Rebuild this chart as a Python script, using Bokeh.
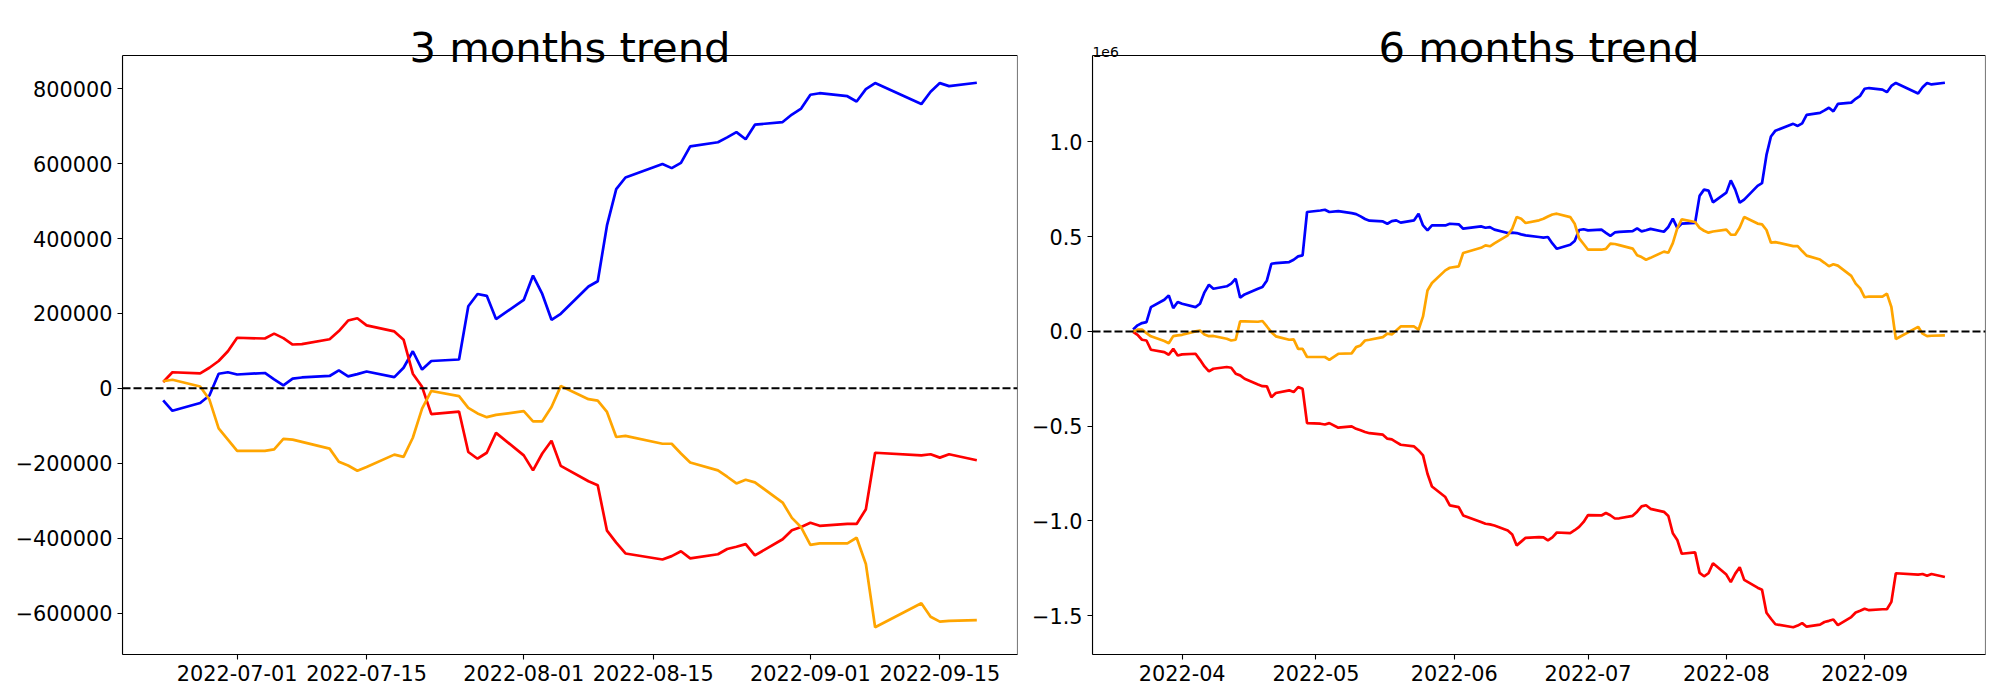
import numpy as np
import pandas as pd
from bokeh.plotting import figure
from bokeh.layouts import row
from bokeh.models import Span, Label, FixedTicker, DatetimeTickFormatter, Range1d, BoxAnnotation
from bokeh.embed import file_html
from bokeh.resources import INLINE

# ---------------- data (values in thousands) ----------------
dates_3m = [
    "2022-06-23", "2022-06-24", "2022-06-27", "2022-06-28", "2022-06-29", "2022-06-30",
    "2022-07-01", "2022-07-04", "2022-07-05", "2022-07-06", "2022-07-07", "2022-07-08",
    "2022-07-11", "2022-07-12", "2022-07-13", "2022-07-14", "2022-07-15",
    "2022-07-18", "2022-07-19", "2022-07-20", "2022-07-21", "2022-07-22",
    "2022-07-25", "2022-07-26", "2022-07-27", "2022-07-28", "2022-07-29",
    "2022-08-01", "2022-08-02", "2022-08-03", "2022-08-04", "2022-08-05",
    "2022-08-08", "2022-08-09", "2022-08-10", "2022-08-11", "2022-08-12",
    "2022-08-16", "2022-08-17", "2022-08-18", "2022-08-19",
    "2022-08-22", "2022-08-23", "2022-08-24", "2022-08-25", "2022-08-26",
    "2022-08-29", "2022-08-30", "2022-08-31", "2022-09-01", "2022-09-02",
    "2022-09-05", "2022-09-06", "2022-09-07", "2022-09-08",
    "2022-09-13", "2022-09-14", "2022-09-15", "2022-09-16", "2022-09-19",
]
blue_3m = [-32, -60, -39, -19, 39, 43, 37, 41, 24, 8, 26, 29, 33, 48, 32, 38, 45,
           30, 55, 99, 50, 73, 77, 219, 252, 247, 185, 236, 301, 252, 183, 199,
           272, 286, 435, 532, 563, 599, 588, 602, 646, 657, 670, 684, 665, 704,
           711, 731, 747, 784, 788, 780, 766, 799, 815, 759, 792, 815, 807, 816]
red_3m = [17, 43, 40, 55, 73, 99, 135, 133, 146, 134, 117, 118, 131, 153, 181, 187, 168,
          152, 130, 39, 4, -69, -62, -170, -188, -172, -119, -179, -219, -174, -140, -207,
          -248, -259, -380, -412, -441, -457, -448, -435, -454, -443, -429, -423, -416, -446,
          -403, -379, -370, -359, -367, -362, -362, -323, -172, -179, -176, -185, -176, -192]
orange_3m = [19, 23, 5, -30, -107, -137, -167, -167, -163, -135, -137, -143, -161, -196, -206, -220, -210,
             -177, -183, -132, -54, -7, -21, -52, -67, -77, -71, -61, -88, -88, -50, 6,
             -29, -33, -63, -130, -127, -148, -148, -174, -198, -219, -236, -254, -244, -251,
             -305, -346, -371, -418, -414, -414, -399, -469, -638, -574, -610, -623, -621, -619]

dates_6m = [
    "2022-03-21", "2022-03-22", "2022-03-23", "2022-03-24", "2022-03-25",
    "2022-03-28", "2022-03-29", "2022-03-30", "2022-03-31",
    "2022-04-01", "2022-04-04", "2022-04-05", "2022-04-06", "2022-04-07", "2022-04-08",
    "2022-04-11", "2022-04-12", "2022-04-13", "2022-04-14", "2022-04-15",
    "2022-04-18", "2022-04-19", "2022-04-20", "2022-04-21", "2022-04-22",
    "2022-04-25", "2022-04-26", "2022-04-27", "2022-04-28", "2022-04-29",
    "2022-05-02", "2022-05-03", "2022-05-04", "2022-05-06",
    "2022-05-09", "2022-05-10", "2022-05-11", "2022-05-12", "2022-05-13",
    "2022-05-16", "2022-05-17", "2022-05-18", "2022-05-19", "2022-05-20",
    "2022-05-23", "2022-05-24", "2022-05-25", "2022-05-26", "2022-05-27",
    "2022-05-30", "2022-05-31", "2022-06-02", "2022-06-03",
    "2022-06-07", "2022-06-08", "2022-06-09", "2022-06-10",
    "2022-06-13", "2022-06-14", "2022-06-15", "2022-06-16", "2022-06-17",
    "2022-06-20", "2022-06-21", "2022-06-22",
] + dates_3m
blue_6m = [10, 32, 44, 49, 128, 167, 190, 123, 155,
           146, 128, 146, 206, 246, 225, 238, 252, 278, 178, 195, 225, 234, 269, 357, 360,
           366, 378, 396, 401, 630,
           638, 642, 630, 635, 624, 619, 607, 593, 584, 580, 568, 582, 586, 574,
           586, 621, 559, 533, 559, 559, 568,
           565, 542, 554, 547, 550, 537, 519, 521, 519, 512, 507, 498, 495, 498,
           464, 436, 457, 477, 535, 539, 533, 537, 520, 504, 522, 525, 529, 544, 528, 534, 541,
           526, 551, 595, 546, 569, 573, 715, 748, 743, 681, 732, 797, 748, 679, 695,
           768, 782, 931, 1028, 1059, 1095, 1084, 1098, 1142, 1153, 1166, 1180, 1161, 1200,
           1207, 1227, 1243, 1280, 1284, 1276, 1262, 1295, 1311, 1255, 1288, 1311, 1303, 1312]
red_6m = [-2, -18, -44, -48, -97, -109, -123, -92, -127,
          -121, -118, -150, -185, -211, -197, -188, -192, -223, -232, -250, -280, -289, -290, -347, -325,
          -311, -320, -294, -303, -484,
          -487, -491, -484, -508, -501, -514, -522, -531, -537, -545, -566, -570, -584, -598,
          -607, -628, -654, -751, -818, -874, -918,
          -927, -971, -1006, -1015, -1018, -1024, -1050, -1071, -1129, -1109, -1089, -1085, -1087, -1103,
          -1087, -1061, -1064, -1049, -1031, -1005, -969, -971, -958, -970, -987, -986, -973, -951, -923, -917, -936,
          -952, -974, -1065, -1100, -1173, -1166, -1274, -1292, -1276, -1223, -1283, -1323, -1278, -1244, -1311,
          -1352, -1363, -1484, -1516, -1545, -1561, -1552, -1539, -1558, -1547, -1533, -1527, -1520, -1550,
          -1507, -1483, -1474, -1463, -1471, -1466, -1466, -1427, -1276, -1283, -1280, -1289, -1280, -1296]
orange_6m = [0, 9, 9, -9, -26, -51, -62, -25, -21,
             -18, 0, 5, -16, -25, -24, -39, -48, -44, 53, 53, 51, 55, 26, -4, -26,
             -44, -42, -92, -92, -135,
             -135, -135, -150, -118, -116, -83, -74, -48, -44, -30, -12, -16, 5, 26,
             26, 9, 79, 216, 255, 322, 336,
             343, 414, 441, 454, 449, 464, 507, 542, 603, 594, 572, 586, 594, 606,
             617, 621, 603, 568, 491, 461, 431, 431, 435, 463, 461, 455, 437, 402, 392, 378, 388,
             421, 415, 466, 544, 591, 577, 546, 531, 521, 527, 537, 510, 510, 548, 604,
             569, 565, 535, 468, 471, 450, 450, 424, 400, 379, 362, 344, 354, 347,
             293, 252, 227, 180, 184, 184, 199, 129, -40, 24, -12, -25, -23, -21]

xticks_3m = ["2022-07-01", "2022-07-15", "2022-08-01", "2022-08-15", "2022-09-01", "2022-09-15"]
xticks_6m = ["2022-04-01", "2022-05-01", "2022-06-01", "2022-07-01", "2022-08-01", "2022-09-01"]
yticks_3m = [-600000, -400000, -200000, 0, 200000, 400000, 600000, 800000]
yticks_6m = [-1.5e6, -1.0e6, -0.5e6, 0.0, 0.5e6, 1.0e6]
ylabels_6m = ["\u22121.5", "\u22121.0", "\u22120.5", "0.0", "0.5", "1.0"]

FONT = "DejaVu Sans"
TICK_SIZE = "20.8px"
BOX_H = 599      # height of the axes box
TOP = 55         # space above the axes box (title area, inside the frame)
BOTTOM = 46


def ms(s):
    return pd.Timestamp(s).value / 1e6


def make_panel(dates, series, title, fw, bl, br, xticks, xfmt, yticks, ylabels, offset_text=None):
    x = pd.to_datetime(dates)
    allv = np.concatenate([np.asarray(s, dtype=float) * 1000 for s in series])
    vmin, vmax = allv.min(), allv.max()
    vpad = 0.05 * (vmax - vmin)
    y0, y1 = vmin - vpad, vmax + vpad
    ytop = y1 + (y1 - y0) * TOP / BOX_H
    t0, t1 = x.min(), x.max()
    tpad = (t1 - t0) * 0.05
    xa, xb = t0 - tpad, t1 + tpad
    p = figure(x_axis_type="datetime", frame_width=fw, frame_height=BOX_H + TOP,
               min_border_left=bl, min_border_right=br, min_border_top=0, min_border_bottom=BOTTOM,
               x_range=Range1d(xa.to_pydatetime(), xb.to_pydatetime()),
               y_range=Range1d(y0, ytop),
               toolbar_location=None, output_backend="svg")
    p.background_fill_color = "white"
    p.border_fill_color = "white"
    p.outline_line_color = None
    p.xgrid.grid_line_color = None
    p.ygrid.grid_line_color = None
    for ax in p.axis:
        ax.axis_line_color = "black"
        ax.axis_line_width = 1.1
        ax.major_tick_line_color = "black"
        ax.major_tick_line_width = 1.1
        ax.major_tick_in = 0
        ax.major_tick_out = 5
        ax.minor_tick_line_color = None
        ax.major_label_standoff = 5
        ax.major_label_text_font = FONT
        ax.major_label_text_font_size = TICK_SIZE
        ax.major_label_text_color = "black"

    p.xaxis.ticker = FixedTicker(ticks=[ms(s) for s in xticks])
    p.xaxis.formatter = DatetimeTickFormatter(
        microseconds=xfmt, milliseconds=xfmt, seconds=xfmt, minsec=xfmt, minutes=xfmt,
        hourmin=xfmt, hours=xfmt, days=xfmt, months=xfmt, years=xfmt)
    p.yaxis.ticker = FixedTicker(ticks=list(yticks))
    p.yaxis.bounds = (y0, y1)
    p.yaxis.major_label_overrides = {v: lab for v, lab in zip(yticks, ylabels)}

    colors = ["blue", "red", "orange"]
    for s, c in zip(series, colors):
        p.line(x, np.asarray(s, dtype=float) * 1000, line_color=c, line_width=2.7)

    p.add_layout(Span(location=0, dimension="width", line_color="black",
                      line_width=2, line_dash="8 3"))

    # axes box (spines)
    p.add_layout(BoxAnnotation(left=xa.value / 1e6, right=xb.value / 1e6, bottom=y0, top=y1,
                               fill_color=None, fill_alpha=0, line_color="black",
                               line_width=1.1, line_alpha=1.0))

    p.add_layout(Label(x=fw / 2, y=BOX_H + 8.3, x_units="screen", y_units="screen",
                       text=title, text_align="center", text_baseline="alphabetic",
                       text_font=FONT, text_font_size="41.7px", text_color="black"))
    if offset_text:
        p.add_layout(Label(x=0, y=BOX_H + 3.5, x_units="screen", y_units="screen",
                           text=offset_text, text_align="left", text_baseline="alphabetic",
                           text_font=FONT, text_font_size="13.9px", text_color="black"))
    return p


ylabels_3m = [str(v).replace("-", "\u2212") for v in yticks_3m]

p1 = make_panel(dates_3m, [blue_3m, red_3m, orange_3m], "3 months trend", 895, 122, 10,
                xticks_3m, "%Y-%m-%d", yticks_3m, ylabels_3m)
p2 = make_panel(dates_6m, [blue_6m, red_6m, orange_6m], "6 months trend", 893, 65, 15,
                xticks_6m, "%Y-%m", yticks_6m, ylabels_6m, offset_text="1e6")

layout = row(p1, p2)
open("out.html", "w").write(file_html(layout, INLINE))
